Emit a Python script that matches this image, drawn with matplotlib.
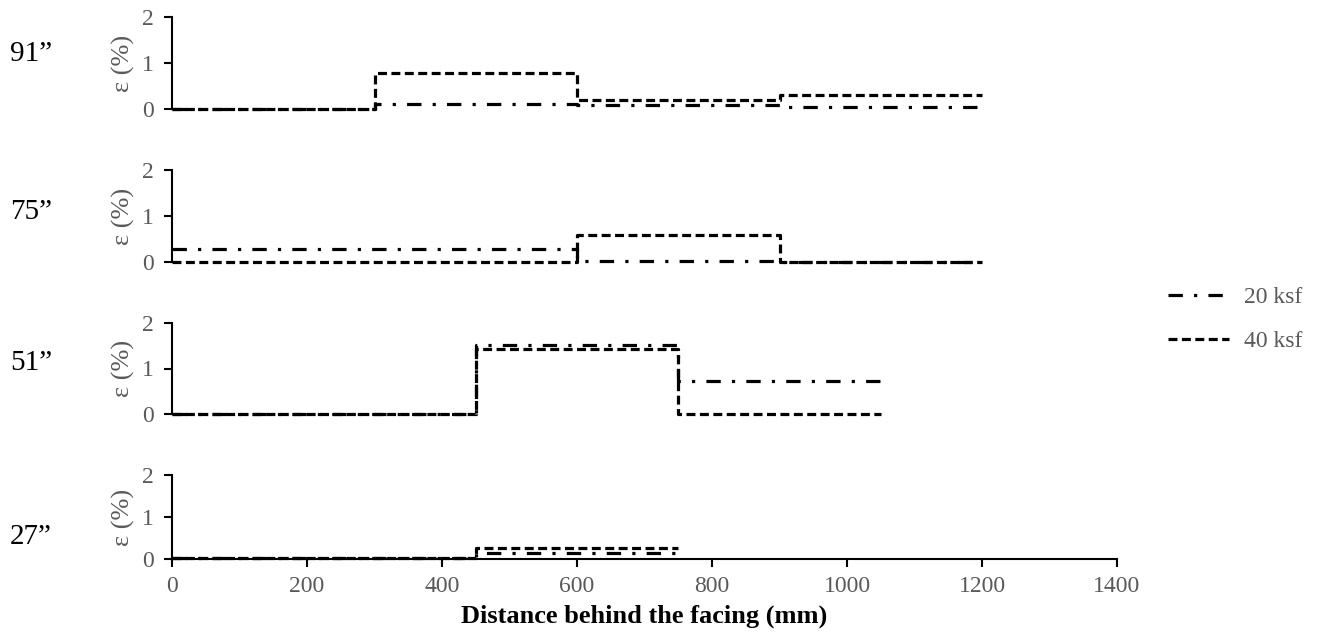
import numpy as np
import matplotlib
matplotlib.use("Agg")
import matplotlib.pyplot as plt
from matplotlib.lines import Line2D

plt.rcParams['font.family'] = ['Liberation Serif', 'DejaVu Serif']

# data: step edges (mm) and segment values (%)
depths = ['91”', '75”', '51”', '27”']
edges = [
    [0, 300, 600, 900, 1200],
    [0, 300, 600, 900, 1200],
    [0, 450, 750, 1050],
    [0, 450, 750],
]
ksf20 = [
    [0.0, 0.10, 0.08, 0.05],
    [0.28, 0.28, 0.02, 0.0],
    [0.0, 1.52, 0.72],
    [0.03, 0.14],
]
ksf40 = [
    [0.0, 0.78, 0.20, 0.30],
    [0.0, 0.0, 0.58, 0.0],
    [0.0, 1.42, 0.0],
    [0.02, 0.26],
]
xticks = [0, 200, 400, 600, 800, 1000, 1200, 1400]

dashdot = (0, (4.5, 3.5, 1, 3.5))
dashed = (0, (2.8, 1.4))
grey = '#595959'

W, H = 1334, 641
fig = plt.figure(figsize=(W / 100, H / 100), dpi=100)
# panel top / bottom in pixels, label centre in pixels
boxes = [(17, 109), (170, 262), (323, 414), (475, 559)]
label_y = [54, 212, 363, 537]
left, right = 172 / W, 1117 / W

for i, (top, bot) in enumerate(boxes):
    ax = fig.add_axes([left, 1 - bot / H, right - left, (bot - top) / H])
    x = edges[i]
    y20 = ksf20[i] + [ksf20[i][-1]]
    y40 = ksf40[i] + [ksf40[i][-1]]
    ax.step(x, y20, where='post', color='black', lw=2.3, linestyle=dashdot,
            clip_on=False)
    ax.step(x, y40, where='post', color='black', lw=2.3, linestyle=dashed,
            clip_on=False)
    ax.set_xlim(0, 1400)
    ax.set_ylim(0, 2)
    ax.set_yticks([0, 1, 2])
    ax.spines['top'].set_visible(False)
    ax.spines['right'].set_visible(False)
    ax.spines['left'].set_linewidth(1.5)
    ax.tick_params(axis='y', labelsize=17, length=6, width=1.5, pad=7,
                   labelcolor=grey)
    ax.set_ylabel('ε (%)', color=grey, fontsize=19, labelpad=5)
    if i < 3:
        ax.spines['bottom'].set_visible(False)
        ax.set_xticks([])
    else:
        ax.spines['bottom'].set_linewidth(1.5)
        ax.set_xticks(xticks)
        ax.tick_params(axis='x', length=6, width=1.5, labelsize=17, pad=6,
                       labelcolor=grey)
        ax.set_xlabel('Distance behind the facing (mm)', fontsize=19,
                      fontweight='bold', labelpad=6)
    fig.text(10 / W, 1 - label_y[i] / H, depths[i], fontsize=21,
             va='center', ha='left')

handles = [Line2D([0], [0], color='black', lw=2.3, linestyle=dashdot),
           Line2D([0], [0], color='black', lw=2.3, linestyle=dashed)]
leg = fig.legend(handles, ['20 ksf', '40 ksf'], loc='center left',
                 bbox_to_anchor=(1168 / W, 1 - 319.5 / H), frameon=False,
                 fontsize=17, handlelength=2.6, handletextpad=0.6,
                 labelspacing=0.95, borderpad=0, borderaxespad=0)
for t in leg.get_texts():
    t.set_color(grey)

fig.savefig('out.png', dpi=100)
